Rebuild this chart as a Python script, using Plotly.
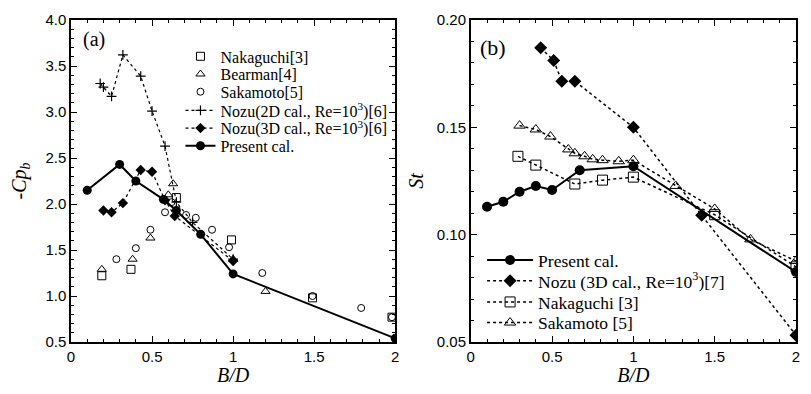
import plotly.graph_objects as go

# ---------------- Panel (a): -Cp_b vs B/D ----------------
a_present_x = [0.1, 0.3, 0.4, 0.57, 0.65, 0.8, 1.0, 2.0]
a_present_y = [2.15, 2.43, 2.25, 2.05, 1.93, 1.67, 1.24, 0.54]

a_nozu3d_x = [0.2, 0.25, 0.32, 0.43, 0.5, 0.58, 0.64, 1.0]
a_nozu3d_y = [1.93, 1.91, 2.01, 2.37, 2.35, 2.04, 1.87, 1.38]

a_nozu2d_x = [0.18, 0.2, 0.25, 0.32, 0.43, 0.5, 0.58, 0.65, 0.75, 1.0]
a_nozu2d_y = [3.31, 3.27, 3.17, 3.62, 3.39, 3.01, 2.63, 2.02, 1.80, 1.40]

a_naka_x = [0.19, 0.37, 0.65, 0.99, 1.49, 1.98]
a_naka_y = [1.22, 1.29, 2.07, 1.61, 0.98, 0.77]

a_bear_x = [0.19, 0.38, 0.49, 0.6, 0.63, 1.0, 1.2]
a_bear_y = [1.29, 1.40, 1.63, 2.10, 2.22, 1.40, 1.05]

a_saka_x = [0.28, 0.40, 0.49, 0.58, 0.62, 0.71, 0.77, 0.87, 0.975, 1.18, 1.49, 1.79, 1.98]
a_saka_y = [1.40, 1.52, 1.72, 1.91, 2.02, 1.88, 1.85, 1.72, 1.53, 1.25, 1.00, 0.87, 0.77]

# ---------------- Panel (b): St vs B/D ----------------
b_present_x = [0.1, 0.2, 0.3, 0.4, 0.5, 0.67, 1.0, 2.0]
b_present_y = [0.113, 0.1153, 0.120, 0.1227, 0.1208, 0.130, 0.1319, 0.0826]

b_nozu_x = [0.43, 0.51, 0.56, 0.64, 1.0, 1.42, 2.0]
b_nozu_y = [0.1871, 0.1811, 0.1715, 0.1715, 0.150, 0.109, 0.0532]

b_naka_x = [0.29, 0.40, 0.64, 0.81, 1.0, 1.50, 2.0]
b_naka_y = [0.1365, 0.1324, 0.1236, 0.1254, 0.1268, 0.1093, 0.085]

b_saka_x = [0.30, 0.40, 0.49, 0.60, 0.64, 0.70, 0.75, 0.81, 0.91, 1.0, 1.26, 1.50, 1.72, 2.0]
b_saka_y = [0.1508, 0.149, 0.1457, 0.1397, 0.1379, 0.1365, 0.1351, 0.1347, 0.1342, 0.1347,
            0.1227, 0.112, 0.0978, 0.0877]

x_ticks = [0, 0.5, 1, 1.5, 2]
x_ticktext = ["0", "0.5", "1", "1.5", "2"]

serif = "Liberation Serif"
sans = "Liberation Sans"
K = "black"

fig = go.Figure()

# ----- panel (a) traces, each with its own legend row -----
fig.add_trace(go.Scatter(x=a_naka_x, y=a_naka_y, mode="markers", name="Nakaguchi[3]",
                         marker=dict(symbol="square-open", size=8, color=K, line=dict(width=1)),
                         xaxis="x", yaxis="y", legend="legend"))
fig.add_trace(go.Scatter(x=a_bear_x, y=a_bear_y, mode="markers", name="Bearman[4]",
                         marker=dict(symbol="triangle-up-open", size=8, color=K, line=dict(width=1)),
                         xaxis="x", yaxis="y", legend="legend2"))
fig.add_trace(go.Scatter(x=a_saka_x, y=a_saka_y, mode="markers", name="Sakamoto[5]",
                         marker=dict(symbol="circle-open", size=7, color=K, line=dict(width=1)),
                         xaxis="x", yaxis="y", legend="legend3"))
fig.add_trace(go.Scatter(x=a_nozu2d_x, y=a_nozu2d_y, mode="lines+markers",
                         name="Nozu(2D cal., Re=10<sup>3</sup>)[6]",
                         line=dict(color=K, width=1.2, dash="dot"),
                         marker=dict(symbol="cross-thin", size=7, color=K, line=dict(width=1.2, color=K)),
                         xaxis="x", yaxis="y", legend="legend4"))
fig.add_trace(go.Scatter(x=a_nozu3d_x, y=a_nozu3d_y, mode="lines+markers",
                         name="Nozu(3D cal., Re=10<sup>3</sup>)[6]",
                         line=dict(color=K, width=1.2, dash="dot"),
                         marker=dict(symbol="diamond", size=8, color=K),
                         xaxis="x", yaxis="y", legend="legend5"))
fig.add_trace(go.Scatter(x=a_present_x, y=a_present_y, mode="lines+markers", name="Present cal.",
                         line=dict(color=K, width=2),
                         marker=dict(symbol="circle", size=9, color=K),
                         xaxis="x", yaxis="y", legend="legend6"))

# ----- panel (b) traces -----
fig.add_trace(go.Scatter(x=b_present_x, y=b_present_y, mode="lines+markers", name="Present cal.",
                         line=dict(color=K, width=2),
                         marker=dict(symbol="circle", size=10, color=K),
                         xaxis="x2", yaxis="y2", legend="legend7"))
fig.add_trace(go.Scatter(x=b_nozu_x, y=b_nozu_y, mode="lines+markers",
                         name="Nozu (3D cal., Re=10<sup>3</sup>)[7]",
                         line=dict(color=K, width=1.5, dash="dot"),
                         marker=dict(symbol="diamond", size=10, color=K),
                         xaxis="x2", yaxis="y2", legend="legend8"))
fig.add_trace(go.Scatter(x=b_naka_x, y=b_naka_y, mode="lines+markers", name="Nakaguchi [3]",
                         line=dict(color=K, width=1.5, dash="dot"),
                         marker=dict(symbol="square-open", size=10, color=K, line=dict(width=1)),
                         xaxis="x2", yaxis="y2", legend="legend9"))
fig.add_trace(go.Scatter(x=b_saka_x, y=b_saka_y, mode="lines+markers", name="Sakamoto [5]",
                         line=dict(color=K, width=1.5, dash="dot"),
                         marker=dict(symbol="triangle-up-open", size=10, color=K, line=dict(width=1)),
                         xaxis="x2", yaxis="y2", legend="legend10"))

axis_common = dict(showline=True, linecolor=K, linewidth=1.5, mirror="ticks",
                   ticks="inside", ticklen=6, tickwidth=1.2, tickcolor=K,
                   showgrid=False, zeroline=False, ticklabeloverflow="allow",
                   tickfont=dict(family=sans, size=15, color=K))
minor_x = dict(dtick=0.1, ticks="inside", ticklen=3, tickcolor=K)


def leg(x, y, size, iw):
    return dict(x=x, y=y, xanchor="left", yanchor="middle", bgcolor="rgba(0,0,0,0)",
                font=dict(family=serif, size=size, color=K), itemwidth=iw,
                tracegroupgap=0, borderwidth=0)


left_rows = [0.887, 0.832, 0.777, 0.719, 0.664, 0.609]
right_rows = [0.254, 0.190, 0.124, 0.060]

layout_legends = {}
for i, yy in enumerate(left_rows):
    key = "legend" if i == 0 else "legend%d" % (i + 1)
    layout_legends[key] = leg(0.151, yy, 16, 30)
for j, yy in enumerate(right_rows):
    layout_legends["legend%d" % (j + 7)] = leg(0.567, yy, 17.5, 46)

fig.update_layout(
    width=795, height=378,
    margin=dict(l=63, r=3, t=7, b=44),
    paper_bgcolor="white", plot_bgcolor="white",
    showlegend=True,
    xaxis=dict(domain=[0, 0.4472], range=[0, 2], tickvals=x_ticks, ticktext=x_ticktext,
               minor=minor_x,
               title=dict(text="<i>B/D</i>", font=dict(family=serif, size=20, color=K), standoff=2),
               anchor="y", **axis_common),
    yaxis=dict(domain=[0, 1], range=[0.5, 4.0], dtick=0.5, tickformat=".1f",
               minor=dict(dtick=0.1, ticks="inside", ticklen=3, tickcolor=K),
               title=dict(text="-<i>Cp<sub>b</sub></i>", font=dict(family=serif, size=20, color=K), standoff=15),
               anchor="x", **axis_common),
    xaxis2=dict(domain=[0.5514, 1], range=[0, 2], tickvals=x_ticks, ticktext=x_ticktext,
                minor=minor_x,
                title=dict(text="<i>B/D</i>", font=dict(family=serif, size=20, color=K), standoff=2),
                anchor="y2", **axis_common),
    yaxis2=dict(domain=[0, 1], range=[0.05, 0.20], dtick=0.05, tickformat=".2f",
                minor=dict(dtick=0.01, ticks="inside", ticklen=3, tickcolor=K),
                title=dict(text="<i>St</i>", font=dict(family=serif, size=20, color=K), standoff=8),
                anchor="x2", **axis_common),
    annotations=[
        dict(text="(a)", x=0.0137, y=0.939, xref="paper", yref="paper", xanchor="left", yanchor="middle",
             showarrow=False, font=dict(family=serif, size=20, color=K)),
        dict(text="(b)", x=0.561, y=0.914, xref="paper", yref="paper", xanchor="left", yanchor="middle",
             showarrow=False, font=dict(family=serif, size=22, color=K)),
    ],
    **layout_legends,
)

fig.write_html("out.html")
